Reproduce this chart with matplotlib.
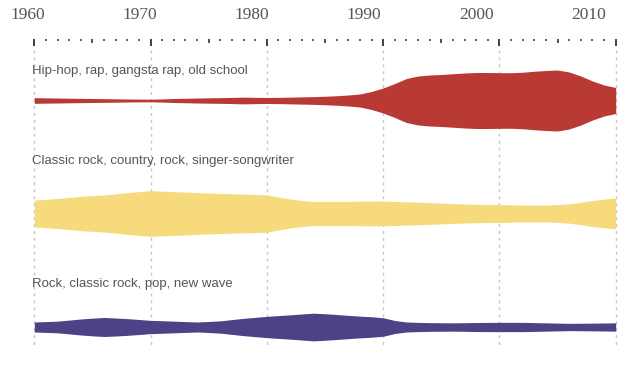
import matplotlib
matplotlib.use("Agg")
import matplotlib.pyplot as plt
import numpy as np

# ---- data: relative stream thickness per year (1960-2010) ----
years = np.arange(1960, 2011)

hiphop = [5.7, 5.3, 5.0, 4.6, 4.3, 4.0, 3.7, 3.4, 3.0, 2.8,
          2.6, 3.2, 4.0, 4.5, 5.0, 5.4, 5.7, 6.2, 6.7, 6.3,
          6.0, 6.3, 6.7, 7.2, 7.7, 8.5, 9.5, 11.0, 13.0, 18.0,
          25.0, 34.0, 44.0, 49.0, 51.0, 52.0, 53.5, 55.0, 56.0, 56.0,
          55.7, 55.5, 56.5, 58.5, 60.0, 61.0, 57.0, 49.0, 39.0, 31.0,
          26.0]
classic = [26.7, 28.3, 30.0, 32.0, 34.3, 35.7, 37.0, 39.3, 41.7, 43.7,
           45.7, 44.7, 43.7, 42.7, 41.7, 40.8, 40.0, 39.3, 38.7, 38.0,
           37.3, 33.0, 29.0, 26.0, 24.3, 24.3, 24.3, 24.3, 24.5, 24.6,
           24.7, 24.0, 23.3, 22.5, 21.7, 20.7, 19.7, 19.0, 18.3, 18.1,
           18.0, 17.3, 16.7, 16.7, 16.7, 17.8, 19.3, 22.5, 26.0, 28.5,
           31.0]
newwave = [10.0, 10.8, 11.7, 13.8, 16.0, 17.7, 19.0, 18.0, 16.7, 15.0,
           13.3, 12.5, 11.7, 10.8, 10.0, 11.0, 12.3, 14.8, 17.3, 19.3,
           21.3, 22.8, 24.3, 26.0, 27.7, 26.5, 25.0, 23.3, 21.7, 20.5,
           18.5, 13.0, 10.0, 9.2, 8.7, 8.5, 8.3, 8.6, 9.0, 9.2,
           9.3, 9.3, 9.3, 8.8, 8.3, 7.8, 7.3, 7.5, 7.7, 8.0,
           8.3]

labels = ["Hip-hop, rap, gangsta rap, old school",
          "Classic rock, country, rock, singer-songwriter",
          "Rock, classic rock, pop, new wave"]
decades = [1960, 1970, 1980, 1990, 2000, 2010]

# ---- layout (y in pixel-like units, top = 0) ----
colors = ["#b93a34", "#f6da7b", "#4c4285"]
centers = [100.5, 213.5, 327.0]
label_y = [71, 161, 284]

fig = plt.figure(figsize=(6.44, 3.78), dpi=100)
ax = fig.add_axes([0, 0, 1, 1])
px = 50 / 581.4  # years per pixel
ax.set_xlim(1960 - 34.3 * px, 2010 + 28.3 * px)
ax.set_ylim(378, 0)
ax.axis("off")

# dotted decade gridlines
ax.vlines(decades, 50, 348, colors="#c4c4c4", linewidth=1.0,
          linestyles=(0, (2, 3)), zorder=1)

# tick marks along the top
for y in years:
    if y % 10 == 0:
        ax.vlines(y, 39, 46, colors="#333333", linewidth=1.3, zorder=3)
    elif y % 5 == 0:
        ax.vlines(y, 39, 43, colors="#333333", linewidth=1.2, zorder=3)
    else:
        ax.vlines(y, 39, 41, colors="#444444", linewidth=1.2, zorder=3)

# year labels (serif, slightly left of ticks like the original)
for d in decades:
    xl = d - 0.6 - 0.0345 * (d - 1960)
    ax.text(xl, 15, str(d), ha="center", va="center", fontsize=12.5,
            family="Liberation Serif", color="#555555")

# streams
for vals, c, cy, lab, ly in zip([hiphop, classic, newwave], colors, centers, labels, label_y):
    v = np.array(vals)
    ax.fill_between(years, cy - v / 2, cy + v / 2, color=c, linewidth=0, zorder=2)
    ax.text(1959.8, ly, lab, ha="left", va="center", fontsize=9.5,
            family="Liberation Sans", color="#555555", zorder=4)

fig.savefig("out.png", dpi=100, facecolor="white")
